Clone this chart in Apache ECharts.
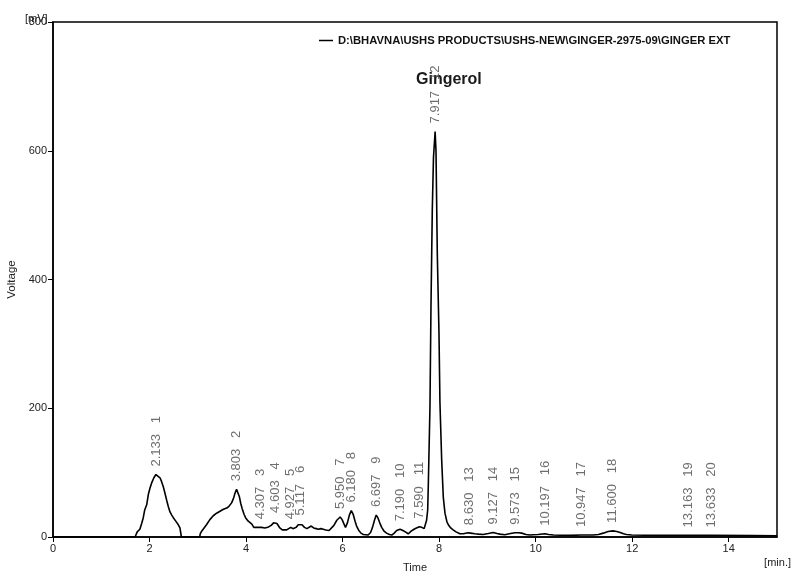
<!DOCTYPE html>
<html>
<head>
<meta charset="utf-8">
<script src="https://cdn.jsdelivr.net/npm/echarts@6/dist/echarts.min.js"></script>
<style>html,body{margin:0;padding:0;background:#fff;}#c{width:793px;height:573px;}</style>
</head>
<body>
<div id="c"></div>
<script>
// ---- data ----
var seriesName = 'D:\\BHAVNA\\USHS PRODUCTS\\USHS-NEW\\GINGER-2975-09\\GINGER EXT';
var timeMin = [0, 1.70, 1.733, 1.745, 1.80, 1.837, 1.87, 1.90, 1.941, 1.975, 2.01, 2.044, 2.09, 2.133, 2.17, 2.217, 2.25, 2.285, 2.32, 2.355, 2.39, 2.424, 2.46, 2.493, 2.54, 2.596, 2.63, 2.655, 2.66,
  3.04, 3.05, 3.08, 3.13, 3.18, 3.25, 3.32, 3.39, 3.46, 3.53, 3.60, 3.65, 3.70, 3.74, 3.77, 3.803, 3.83, 3.86, 3.89, 3.92, 3.96, 3.99, 4.04, 4.08, 4.12, 4.16,
  4.25, 4.32, 4.39, 4.45, 4.52, 4.57, 4.603, 4.64, 4.70, 4.75, 4.79, 4.84, 4.88, 4.927, 4.97, 4.99, 5.04, 5.08, 5.117, 5.16, 5.21, 5.26, 5.30, 5.35, 5.40, 5.45, 5.50, 5.55, 5.60, 5.65, 5.72,
  5.76, 5.82, 5.88, 5.95, 5.99, 6.03, 6.06, 6.10, 6.14, 6.18, 6.22, 6.26, 6.29, 6.33, 6.38, 6.43, 6.53, 6.58, 6.62, 6.66, 6.697, 6.73, 6.77, 6.81, 6.86, 6.91, 6.97, 7.02,
  7.07, 7.12, 7.19, 7.25, 7.30, 7.36, 7.42, 7.48, 7.53, 7.59, 7.64, 7.69, 7.71, 7.74, 7.763, 7.775, 7.81, 7.831, 7.858, 7.883, 7.917, 7.935, 7.962, 7.997, 8.017, 8.053, 8.086, 8.121, 8.16, 8.19, 8.24, 8.29, 8.35,
  8.43, 8.50, 8.60, 8.65, 8.74, 8.82, 8.91, 8.95, 9.02, 9.12, 9.20, 9.26, 9.36, 9.40, 9.48, 9.57, 9.65, 9.71, 9.80, 9.88, 9.95, 10.05, 10.19, 10.27, 10.37, 10.50, 10.71, 10.95, 11.19,
  11.30, 11.40, 11.50, 11.60, 11.68, 11.75, 11.82, 11.88, 11.99, 12.5, 13.16, 13.63, 14.5, 15];
var voltage = [0, 0, 0, 8, 12, 21, 30, 42, 50, 66, 76, 84, 92, 97, 96, 92, 86, 78, 68, 57, 47, 39, 34, 30, 25, 19, 14, 11, 0,
  0, 5, 9, 14, 19, 27, 33, 37, 40, 43, 45, 48, 53, 60, 68, 74, 71, 63, 52, 44, 35, 30, 25, 23, 20, 15,
  15, 15, 14, 15, 18, 22, 25, 21, 14, 11, 8, 11, 13, 15, 13, 12, 15, 19, 21, 19, 15, 13, 15, 17, 14, 13, 12, 13, 12, 11, 10,
  13, 18, 26, 31, 27, 20, 15, 22, 34, 41, 35, 24, 17, 11, 6, 4, 3, 7, 15, 26, 34, 30, 22, 15, 9, 6, 4, 3,
  6, 10, 12, 10, 8, 5, 9, 12, 14, 16, 15, 13, 14, 26, 42, 78, 202, 357, 507, 590, 630, 600, 440, 316, 208, 119, 62, 37, 24, 19, 14, 11, 8,
  5, 5, 6.5, 6, 5, 4.5, 4, 4.5, 5.5, 7, 5.5, 4.5, 3.5, 4, 5.5, 6.5, 6.5, 6, 4, 3, 3.5, 4, 5, 4, 3, 2.8, 2.5, 3, 3,
  4, 6, 8.5, 9.5, 8.5, 7, 5, 4, 3, 2.5, 2.5, 2.5, 2.2, 2];
var boundaryTimes = [4.16, 4.39, 4.79, 4.99, 5.72, 6.06, 6.53, 7.02, 7.36, 7.71, 8.43, 8.95, 9.36, 9.88, 10.50, 11.19, 11.92, 12.75, 13.40, 14.51];
var boundaryVolts = [15, 14, 8, 12, 10, 15, 3, 3, 5, 14, 5, 4.5, 3.5, 3, 2.8, 3, 4, 2.5, 2.5, 2.2];
var peakNumbers = [1, 2, 3, 4, 5, 6, 7, 8, 9, 10, 11, 12, 13, 14, 15, 16, 17, 18, 19, 20];
var peakTimes = ['2.133', '3.803', '4.307', '4.603', '4.927', '5.117', '5.950', '6.180', '6.697', '7.190', '7.590', '7.917', '8.630', '9.127', '9.573', '10.197', '10.947', '11.600', '13.163', '13.633'];
var peakHeights = [97, 74, 15, 25, 15, 21, 31, 41, 34, 12, 16, 630, 6, 7, 6.5, 5, 3, 9.5, 2.5, 2.5];
var xTicks = [0, 2, 4, 6, 8, 10, 12, 14];
var yTicks = [0, 200, 400, 600, 800];
var compoundName = 'Gingerol';

// ---- build ----
var sans = '"Liberation Sans", Arial, sans-serif';
var traceData = timeMin.map(function (t, i) { return [t, voltage[i]]; });
var boundaryLines = boundaryTimes.map(function (t, i) {
  return [{ coord: [t, -3] }, { coord: [t, boundaryVolts[i]] }];
});
var peakData = peakTimes.map(function (t, i) {
  return { value: [parseFloat(t), peakHeights[i]], time: t, num: peakNumbers[i] };
});

var chart = echarts.init(document.getElementById('c'), null, { renderer: 'canvas' });
chart.setOption({
  animation: false,
  backgroundColor: '#ffffff',
  grid: { left: 53, right: 16, top: 22, bottom: 36, outerBoundsMode: 'none', containLabel: false,
    show: true, borderColor: '#000', borderWidth: 1.5, backgroundColor: 'transparent' },
  legend: {
    left: 319, top: 35, padding: 0,
    itemWidth: 14, itemHeight: 1.5,
    data: [{ name: seriesName, icon: 'rect' }],
    textStyle: { fontFamily: sans, fontWeight: 'bold', fontSize: 11.25, color: '#111' }
  },
  xAxis: {
    type: 'value', min: 0, max: 15, interval: 2,
    name: 'Time', nameLocation: 'middle', nameGap: 25,
    nameTextStyle: { fontFamily: sans, fontSize: 11, color: '#222' },
    axisLine: { show: true, lineStyle: { color: '#000', width: 1.5 } },
    axisTick: { show: true, inside: false, length: 5, lineStyle: { color: '#000' } },
    axisLabel: { margin: 6, fontFamily: sans, fontSize: 11, color: '#222', showMaxLabel: false,
      formatter: function (v) { return xTicks.indexOf(v) >= 0 ? String(v) : ''; } },
    splitLine: { show: false }
  },
  yAxis: {
    type: 'value', min: 0, max: 800, interval: 200,
    name: 'Voltage', nameLocation: 'middle', nameGap: 32,
    nameTextStyle: { fontFamily: sans, fontSize: 11.5, color: '#222' },
    axisLine: { show: true, lineStyle: { color: '#000', width: 1.5 } },
    axisTick: { show: true, inside: false, length: 5, lineStyle: { color: '#000' } },
    axisLabel: { margin: 6, fontFamily: sans, fontSize: 11, color: '#222',
      formatter: function (v) { return yTicks.indexOf(v) >= 0 ? String(v) : ''; } },
    splitLine: { show: false }
  },
  graphic: [
    { type: 'text', left: 25, top: 13, style: { text: '[mV]', font: '11px ' + sans, fill: '#222' } },
    { type: 'text', right: 2, top: 557, style: { text: '[min.]', font: '11px ' + sans, fill: '#222' } },
    { type: 'text', left: 416, top: 72, style: { text: compoundName, font: 'bold 16px ' + sans, fill: '#1a1a1a' } }
  ],
  series: [
    {
      name: seriesName, type: 'line', data: traceData, showSymbol: false, symbol: 'none',
      lineStyle: { color: '#000', width: 1.6 }, itemStyle: { color: '#000' },
      clip: true, silent: true,
      markLine: {
        silent: true, symbol: ['none', 'none'], label: { show: false },
        lineStyle: { color: '#000', width: 1.2, type: 'solid' },
        data: boundaryLines
      }
    },
    {
      name: 'peaks', type: 'scatter', data: peakData, symbolSize: 0, silent: true,
      label: {
        show: true, position: 'top', distance: 8, rotate: 90, align: 'left', verticalAlign: 'middle',
        fontFamily: sans, fontSize: 13, color: '#4a4a4a',
        formatter: function (p) { return p.data.time + '   ' + p.data.num; }
      }
    }
  ]
});
</script>
</body>
</html>
